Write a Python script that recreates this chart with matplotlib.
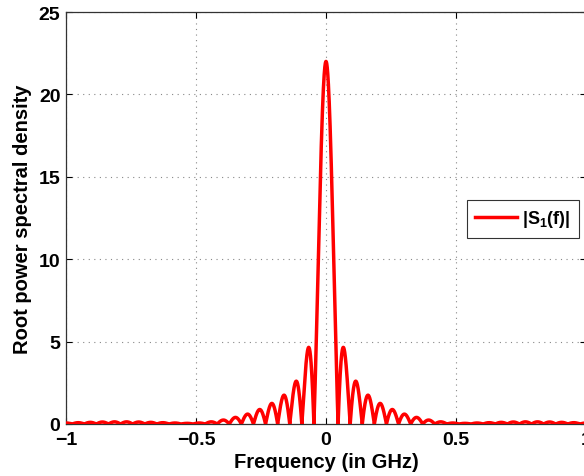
import numpy as np
import matplotlib
matplotlib.use("Agg")
import matplotlib.pyplot as plt

# ---- data ----
main_peak = 22.0            # |S1(0)|
lobe_spacing = 0.0465       # GHz between successive nulls
# peak height of side lobe k (k = 1, 2, ...), same on both sides of 0
lobe_heights = [4.65, 2.60, 1.75, 1.25, 0.88, 0.60, 0.40, 0.24, 0.13, 0.06,
                0.04, 0.06, 0.08, 0.10, 0.12, 0.13, 0.13, 0.12, 0.10, 0.08,
                0.06, 0.05]
x_ticks = [-1, -0.5, 0, 0.5, 1]
x_tick_labels = ["\u22121", "\u22120.5", "0", "0.5", "1"]
y_ticks = [0, 5, 10, 15, 20, 25]
series_label = r"|S$_1$(f)|"

# ---- build the lobed curve: each lobe has a sinc-lobe shape scaled to its read height ----
f = np.linspace(-1, 1, 8001)
u = np.abs(f) / lobe_spacing
k = np.floor(u).astype(int)
shape = np.abs(np.sinc(u))
y = np.zeros_like(f)
for i in range(k.max() + 1):
    m = k == i
    if not m.any():
        continue
    ut = np.linspace(i, i + 1, 401)
    lobe_max = np.abs(np.sinc(ut)).max()
    h = main_peak if i == 0 else lobe_heights[min(i - 1, len(lobe_heights) - 1)]
    y[m] = h * shape[m] / lobe_max

plt.rcParams["font.family"] = ["Liberation Sans", "DejaVu Sans"]
plt.rcParams["font.weight"] = "bold"
plt.rcParams["mathtext.fontset"] = "custom"
plt.rcParams["mathtext.rm"] = "Liberation Sans:bold"
plt.rcParams["mathtext.it"] = "Liberation Sans:bold"
plt.rcParams["mathtext.bf"] = "Liberation Sans:bold"

W, H = 584, 477
fig = plt.figure(figsize=(W / 100, H / 100), dpi=100)
ax = fig.add_axes([66 / W, (H - 425) / H, (586 - 66) / W, (425 - 13) / H])

ax.plot(f, y, color="red", lw=2.5, label=series_label, zorder=3)

ax.set_xlim(-1, 1)
ax.set_ylim(0, 25)
ax.set_xticks(x_ticks)
ax.set_xticklabels(x_tick_labels)
ax.set_yticks(y_ticks)
ax.tick_params(direction="in", length=4, width=0.8, labelsize=14,
               top=True, right=True)
ax.tick_params(axis="x", pad=5)
ax.tick_params(axis="y", pad=4)
for lab in ax.get_xticklabels() + ax.get_yticklabels():
    lab.set_fontweight("bold")
ax.grid(True, linestyle=(0, (1, 4)), color="#888888", linewidth=0.8)
for s in ax.spines.values():
    s.set_linewidth(0.9)
    s.set_color("#333333")

ax.set_xlabel("Frequency (in GHz)", fontsize=14.5, fontweight="bold", labelpad=3)
ax.set_ylabel("Root power spectral density", fontsize=14.5, fontweight="bold", labelpad=5)

leg = ax.legend(loc="center left", bbox_to_anchor=(467 / W, (H - 220) / H),
                bbox_transform=fig.transFigure, fontsize=13, frameon=True,
                fancybox=False, edgecolor="black", handlelength=2.3,
                borderpad=0.45, handletextpad=0.3, borderaxespad=0)
leg.get_frame().set_linewidth(0.8)
for t in leg.get_texts():
    t.set_fontweight("bold")

fig.savefig("out.png", dpi=100)
